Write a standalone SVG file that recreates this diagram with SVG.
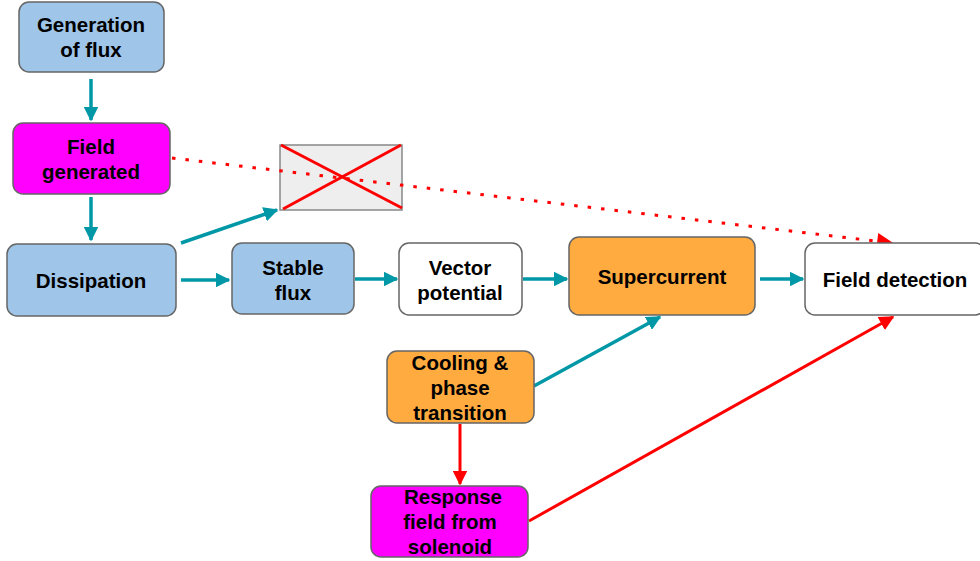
<svg xmlns="http://www.w3.org/2000/svg" width="980" height="561" viewBox="0 0 980 561">
<defs>
<style>
.n{stroke:#666;stroke-width:1.5}
.blue{fill:#9fc5e8}
.mag{fill:#ff00ff}
.org{fill:#ffab40}
.wht{fill:#ffffff}
text{font-family:"Liberation Sans",Arial,sans-serif;font-weight:bold;font-size:20.5px;fill:#000;text-anchor:middle}
.t{stroke:#0097a7;stroke-width:3.5;fill:none}
.r{stroke:#ff0000;stroke-width:3;fill:none}
</style>
<marker id="at" viewBox="0 0 10 10" refX="9" refY="5" markerWidth="4.2" markerHeight="4.2" orient="auto" markerUnits="strokeWidth"><path d="M0,0L10,5L0,10z" fill="#0097a7"/></marker>
<marker id="ar" viewBox="0 0 10 10" refX="9" refY="5" markerWidth="5" markerHeight="5" orient="auto" markerUnits="strokeWidth"><path d="M0,0L10,5L0,10z" fill="#ff0000"/></marker>
<marker id="ard" viewBox="0 0 10 10" refX="9" refY="5" markerWidth="6" markerHeight="5.5" orient="auto" markerUnits="strokeWidth"><path d="M0,0L10,5L0,10z" fill="#ff0000"/></marker>
</defs>
<rect width="980" height="561" fill="#fff"/>
<g id="crossed">
<rect x="280" y="145" width="122" height="65" fill="#eeeeee" stroke="#888" stroke-width="1.5"/>
<line x1="281" y1="145" x2="402" y2="208" stroke="#ff0000" stroke-width="3"/>
<line x1="283" y1="209" x2="401" y2="145" stroke="#ff0000" stroke-width="3"/>
</g>
<g id="connectors">
<line class="t" x1="91" y1="79" x2="91" y2="120" marker-end="url(#at)"/>
<line class="t" x1="91" y1="197" x2="91" y2="240" marker-end="url(#at)"/>
<line class="t" x1="181" y1="243" x2="277" y2="210" marker-end="url(#at)"/>
<line class="t" x1="181" y1="280" x2="229" y2="280" marker-end="url(#at)"/>
<line class="t" x1="355" y1="279" x2="397" y2="279" marker-end="url(#at)"/>
<line class="t" x1="523" y1="279" x2="567" y2="279" marker-end="url(#at)"/>
<line class="t" x1="760" y1="279" x2="803" y2="279" marker-end="url(#at)"/>
<line class="t" x1="534" y1="386" x2="660" y2="317" marker-end="url(#at)"/>
<line class="r" x1="460" y1="424" x2="460" y2="484" marker-end="url(#ar)"/>
<line class="r" x1="529" y1="521" x2="893" y2="317" marker-end="url(#ar)"/>
<line class="r" x1="172" y1="158" x2="892" y2="243" stroke-width="3.5" stroke-dasharray="3.5 10" marker-end="url(#ard)"/>
</g>
<g id="gen">
<rect class="n blue" x="19" y="2" width="145" height="70" rx="10"/>
<text x="91" y="32">Generation</text><text x="91" y="57">of flux</text>
</g>
<g id="field">
<rect class="n mag" x="13" y="123" width="157" height="71" rx="10"/>
<text x="91" y="154">Field</text><text x="91" y="179">generated</text>
</g>
<g id="diss">
<rect class="n blue" x="7" y="244" width="169" height="72" rx="10"/>
<text x="91" y="288">Dissipation</text>
</g>
<g id="stable">
<rect class="n blue" x="232" y="243" width="122" height="71" rx="10"/>
<text x="293" y="275">Stable</text><text x="293" y="300">flux</text>
</g>
<g id="vector">
<rect class="n wht" x="399" y="243" width="123" height="72" rx="10"/>
<text x="460" y="275">Vector</text><text x="460" y="300">potential</text>
</g>
<g id="super">
<rect class="n org" x="569" y="237" width="186" height="78" rx="10"/>
<text x="662" y="284">Supercurrent</text>
</g>
<g id="detect">
<rect class="n wht" x="805" y="243" width="180" height="72" rx="10"/>
<text x="895" y="287">Field detection</text>
</g>
<g id="cooling">
<rect class="n org" x="387" y="351" width="147" height="72" rx="10"/>
<text x="460" y="370">Cooling &amp;</text><text x="460" y="395">phase</text><text x="460" y="420">transition</text>
</g>
<g id="response">
<rect class="n mag" x="371" y="486" width="157" height="71" rx="10"/>
<text x="453" y="504">Response</text><text x="450" y="529">field from</text><text x="450" y="554">solenoid</text>
</g>
</svg>
